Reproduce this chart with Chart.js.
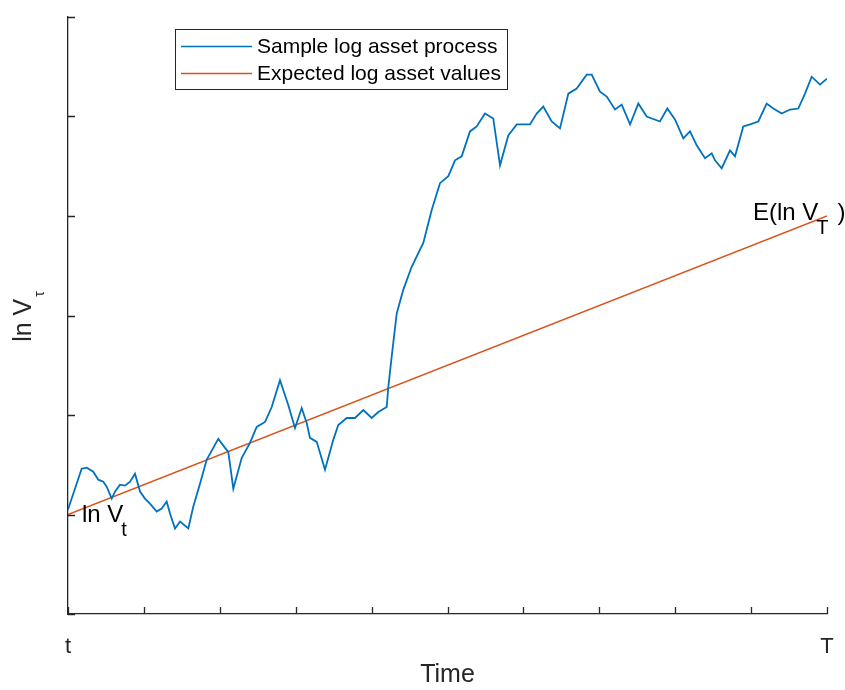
<!DOCTYPE html>
<html>
<head>
<meta charset="utf-8">
<script src="https://cdn.jsdelivr.net/npm/chart.js@4/dist/chart.umd.min.js"></script>
<style>
  html, body { margin: 0; padding: 0; background: #ffffff; }
  #wrap { width: 845px; height: 690px; position: relative; }
</style>
</head>
<body>
<div id="wrap"><canvas id="c" width="845" height="690"></canvas></div>
<script>
// ---- data (time in steps 0..100 between t and T, values in log units) ----
const timeSteps = [0,1.80,2.46,3.33,3.99,4.65,5.10,5.76,6.19,6.85,7.51,8.17,8.83,9.49,10.14,10.80,11.69,12.35,13.00,13.44,14.10,14.76,15.85,16.51,17.39,18.27,19.80,20.69,21.12,21.78,22.89,23.98,24.86,25.96,26.84,27.93,29.02,29.91,30.79,31.45,31.88,32.77,33.86,34.95,35.61,36.72,37.81,38.91,40.01,40.88,41.99,42.20,42.65,43.31,44.18,45.28,46.81,47.92,49.01,50.11,50.99,51.87,52.96,53.85,54.94,56.03,56.92,58.01,59.12,60.87,61.75,62.62,63.73,64.82,65.92,67.02,68.34,69.00,70.09,70.98,72.07,72.95,74.05,75.14,76.24,77.99,78.96,79.97,81.07,81.95,82.83,83.93,84.81,85.24,86.13,87.22,87.88,88.97,89.86,90.95,92.05,92.93,94.03,95.13,96.22,97.10,97.98,99.08,100];
const logAssetProcess = [1.05,1.46,1.47,1.43,1.35,1.33,1.28,1.16,1.23,1.30,1.29,1.33,1.41,1.23,1.16,1.11,1.03,1.06,1.13,1.01,0.86,0.93,0.86,1.08,1.31,1.55,1.76,1.67,1.63,1.26,1.57,1.72,1.88,1.93,2.08,2.35,2.10,1.87,2.07,1.92,1.77,1.73,1.45,1.75,1.90,1.97,1.97,2.05,1.97,2.03,2.08,2.28,2.59,3.02,3.26,3.49,3.73,4.06,4.33,4.40,4.56,4.60,4.85,4.90,5.03,4.98,4.51,4.81,4.92,4.92,5.03,5.10,4.95,4.88,5.23,5.28,5.42,5.42,5.25,5.20,5.07,5.12,4.92,5.13,5.00,4.95,5.08,4.97,4.78,4.85,4.71,4.58,4.63,4.56,4.48,4.66,4.60,4.90,4.92,4.95,5.13,5.08,5.03,5.07,5.08,5.23,5.40,5.32,5.38];
const expectedTime = [0, 100];
const expectedLogAsset = [1, 4];
const xTickLabels = { 0: 't', 100: 'T' };
const seriesNames = ['Sample log asset process', 'Expected log asset values'];
const seriesColors = ['#0072BD', '#D95319'];

const FONT = "'Liberation Sans', Arial, Helvetica, sans-serif";
const AXIS_COLOR = '#262626';

// inward tick marks, axis title with subscript, annotations, legend
const decorPlugin = {
  id: 'decor',
  afterDraw(chart) {
    const ctx = chart.ctx;
    const xs = chart.scales.x, ys = chart.scales.y;
    const area = chart.chartArea;
    ctx.save();
    // inward ticks
    ctx.strokeStyle = AXIS_COLOR;
    ctx.lineWidth = 1.3;
    ctx.beginPath();
    xs.ticks.forEach(t => {
      const px = Math.round(xs.getPixelForValue(t.value)) + 0.5;
      ctx.moveTo(px, area.bottom);
      ctx.lineTo(px, area.bottom - 7);
    });
    ys.ticks.forEach(t => {
      const py = Math.round(ys.getPixelForValue(t.value)) + 0.5;
      ctx.moveTo(area.left, py);
      ctx.lineTo(area.left + 7, py);
    });
    ctx.stroke();

    // y axis title: ln V_tau (rotated)
    ctx.fillStyle = AXIS_COLOR;
    ctx.textBaseline = 'alphabetic';
    ctx.textAlign = 'left';
    const mainF = '25px ' + FONT, subF = '14px ' + FONT;
    ctx.font = mainF; const w1 = ctx.measureText('ln V').width;
    ctx.font = subF; const w2 = ctx.measureText('τ').width;
    ctx.save();
    ctx.translate(31, (area.top + area.bottom) / 2 + 2);
    ctx.rotate(-Math.PI / 2);
    const start = -(w1 + w2) / 2;
    ctx.font = mainF; ctx.fillText('ln V', start, 0);
    ctx.font = subF; ctx.fillText('τ', start + w1 + 2, 13);
    ctx.restore();

    // annotations anchored to expected values
    ctx.fillStyle = '#000000';
    const drawSub = (main, sub, x, y) => {
      ctx.font = '24px ' + FONT;
      ctx.fillText(main, x, y);
      const w = ctx.measureText(main).width;
      ctx.font = '20px ' + FONT;
      ctx.fillText(sub, x + w - 2, y + 14);
      return x + w - 2 + ctx.measureText(sub).width;
    };
    const ax = xs.getPixelForValue(expectedTime[0]);
    const ay = ys.getPixelForValue(expectedLogAsset[0]);
    drawSub('ln V', 't', ax + 14, ay + 7);
    const bx = xs.getPixelForValue(expectedTime[1]);
    const by = ys.getPixelForValue(expectedLogAsset[1]);
    const endX = drawSub('E(ln V', 'T', bx - 74, by + 4);
    ctx.font = '24px ' + FONT;
    ctx.fillText(')', endX + 9, by + 4);

    // legend
    const lx = 175.5, ly = 29.5, lw = 332, lh = 60;
    ctx.fillStyle = '#ffffff';
    ctx.fillRect(lx, ly, lw, lh);
    ctx.strokeStyle = AXIS_COLOR;
    ctx.lineWidth = 1;
    ctx.strokeRect(lx, ly, lw, lh);
    ctx.font = '21px ' + FONT;
    ctx.textBaseline = 'middle';
    chart.data.datasets.forEach((ds, i) => {
      const yy = ly + 17 + i * 27;
      ctx.strokeStyle = ds.borderColor;
      ctx.lineWidth = 1.6;
      ctx.beginPath();
      ctx.moveTo(181, yy);
      ctx.lineTo(252, yy);
      ctx.stroke();
      ctx.fillStyle = '#000000';
      ctx.fillText(ds.label, 257, yy + 1);
    });
    ctx.restore();
  }
};

new Chart(document.getElementById('c'), {
  type: 'line',
  data: {
    datasets: [
      {
        label: seriesNames[0],
        data: timeSteps.map((t, i) => ({ x: t, y: logAssetProcess[i] })),
        borderColor: seriesColors[0],
        borderWidth: 1.8,
        pointRadius: 0,
        tension: 0,
        fill: false
      },
      {
        label: seriesNames[1],
        data: expectedTime.map((t, i) => ({ x: t, y: expectedLogAsset[i] })),
        borderColor: seriesColors[1],
        borderWidth: 1.5,
        pointRadius: 0,
        tension: 0,
        fill: false
      }
    ]
  },
  options: {
    responsive: false,
    animation: false,
    events: [],
    layout: { padding: { top: 17, right: 18, left: 0, bottom: 0 } },
    plugins: { legend: { display: false }, tooltip: { enabled: false } },
    scales: {
      x: {
        type: 'linear',
        min: 0, max: 100,
        grid: { display: false, drawTicks: false },
        border: { display: true, color: AXIS_COLOR, width: 1.3 },
        ticks: {
          stepSize: 10,
          autoSkip: false,
          maxRotation: 0,
          padding: 20,
          color: AXIS_COLOR,
          font: { family: FONT, size: 22 },
          callback: v => (xTickLabels[v] !== undefined ? xTickLabels[v] : '')
        },
        title: {
          display: true,
          text: 'Time',
          color: AXIS_COLOR,
          font: { family: FONT, size: 25 },
          padding: { top: 0, bottom: 0 }
        },
        afterFit: s => { s.height = 76; s.paddingLeft = 0; s.paddingRight = 0; }
      },
      y: {
        type: 'linear',
        min: 0, max: 6,
        grid: { display: false, drawTicks: false },
        border: { display: true, color: AXIS_COLOR, width: 1.3 },
        ticks: { display: false, stepSize: 1 },
        afterFit: s => { s.width = 68; s.paddingTop = 0; s.paddingBottom = 0; }
      }
    }
  },
  plugins: [decorPlugin]
});
</script>
</body>
</html>
